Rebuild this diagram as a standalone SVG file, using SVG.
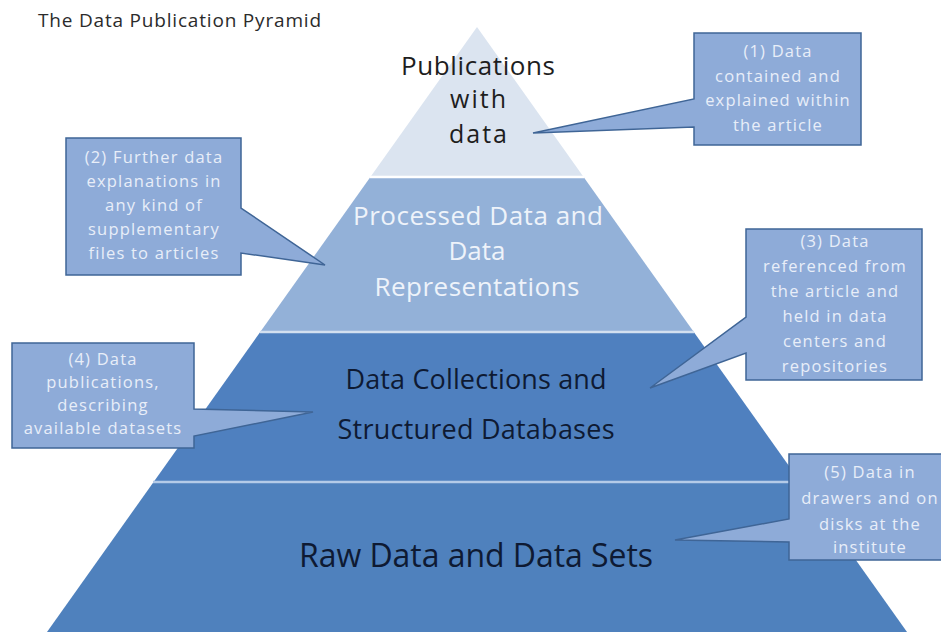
<svg xmlns="http://www.w3.org/2000/svg" width="941" height="632" viewBox="0 0 941 632">
  <style>
    .title { font-family: "Open Sans", "Liberation Sans", sans-serif; font-size: 19px; fill: #2b2b2b; }
    .tier { font-family: "Open Sans", "Liberation Sans", sans-serif; text-anchor: middle; }
    .t1 { font-size: 26px; fill: #1e1e1e; }
    .t2 { font-size: 26px; fill: #eef3fa; }
    .t3 { font-size: 27px; fill: #0e1a33; }
    .t4 { font-size: 32px; fill: #0e1a33; }
    .call { fill: #8eabd8; stroke: #3f6596; stroke-width: 1.5; stroke-linejoin: miter; }
    .ct { font-family: "Open Sans", "Liberation Sans", sans-serif; font-size: 16.5px; letter-spacing: 1.2px; fill: #e8eef8; text-anchor: middle; }
    .sep { stroke-width: 2.5; }
  </style>
  <rect width="941" height="632" fill="#ffffff"/>
  <text class="title" x="38" y="27" textLength="283" lengthAdjust="spacing">The Data Publication Pyramid</text>

  <g id="tier1">
    <polygon points="477,27 583.6,177 370.4,177" fill="#dbe4f0"/>
    <text class="tier t1" x="478" y="75" textLength="154" lengthAdjust="spacing">Publications</text>
    <text class="tier t1" x="478" y="108" style="font-size:25px" textLength="56" lengthAdjust="spacing">with</text>
    <text class="tier t1" x="478" y="143" style="font-size:25px" textLength="58" lengthAdjust="spacing">data</text>
  </g>
  <g id="tier2">
    <polygon points="370.4,177 583.6,177 693.8,332 260.2,332" fill="#93b1d8"/>
    <text class="tier t2" x="478" y="225" textLength="250" lengthAdjust="spacing">Processed Data and</text>
    <text class="tier t2" x="477" y="260">Data</text>
    <text class="tier t2" x="477" y="296" textLength="205" lengthAdjust="spacing">Representations</text>
  </g>
  <g id="tier3">
    <polygon points="260.2,332 693.8,332 800.4,482 153.6,482" fill="#4f80bf"/>
    <text class="tier t3" x="476" y="389" textLength="261" lengthAdjust="spacing">Data Collections and</text>
    <text class="tier t3" x="476" y="439" textLength="277" lengthAdjust="spacing">Structured Databases</text>
  </g>
  <g id="tier4">
    <polygon points="153.6,482 800.4,482 907,632 47,632" fill="#4f81bd"/>
    <text class="tier t4" x="476" y="567" textLength="354" lengthAdjust="spacing">Raw Data and Data Sets</text>
  </g>
  <g id="separators">
    <line class="sep" x1="370" y1="177" x2="584" y2="177" stroke="#ffffff"/>
    <line class="sep" x1="260" y1="332" x2="694" y2="332" stroke="#d3e0f0"/>
    <line class="sep" x1="153" y1="482" x2="801" y2="482" stroke="#b4cbe8"/>
  </g>

  <g id="connectors"></g>

  <g id="callout1">
    <path class="call" d="M694,33 H861 V145 H694 V127 L533,133 L694,99 Z"/>
    <text class="ct" x="778" y="57">(1) Data</text>
    <text class="ct" x="778" y="82">contained and</text>
    <text class="ct" x="778" y="106">explained within</text>
    <text class="ct" x="778" y="131">the article</text>
  </g>
  <g id="callout2">
    <path class="call" d="M66,138 H241 V208 L325,265 L241,253 V275 H66 Z"/>
    <text class="ct" x="154" y="163">(2) Further data</text>
    <text class="ct" x="154" y="187">explanations in</text>
    <text class="ct" x="154" y="211">any kind of</text>
    <text class="ct" x="154" y="235">supplementary</text>
    <text class="ct" x="154" y="259">files to articles</text>
  </g>
  <g id="callout3">
    <path class="call" d="M746,229 H922 V380 H746 V353 L650,388 L746,317 Z"/>
    <text class="ct" x="835" y="247">(3) Data</text>
    <text class="ct" x="835" y="272">referenced from</text>
    <text class="ct" x="835" y="297">the article and</text>
    <text class="ct" x="835" y="322">held in data</text>
    <text class="ct" x="835" y="347">centers and</text>
    <text class="ct" x="835" y="372">repositories</text>
  </g>
  <g id="callout4">
    <path class="call" d="M12,343 H194 V409 L313,412 L194,436 V448 H12 Z"/>
    <text class="ct" x="103" y="365">(4) Data</text>
    <text class="ct" x="103" y="388">publications,</text>
    <text class="ct" x="103" y="411">describing</text>
    <text class="ct" x="103" y="434">available datasets</text>
  </g>
  <g id="callout5">
    <path class="call" d="M789,454 H950 V560 H789 V542 L675,540 L789,519 Z"/>
    <text class="ct" x="870" y="478">(5) Data in</text>
    <text class="ct" x="870" y="504">drawers and on</text>
    <text class="ct" x="870" y="530">disks at the</text>
    <text class="ct" x="870" y="553">institute</text>
  </g>
</svg>
